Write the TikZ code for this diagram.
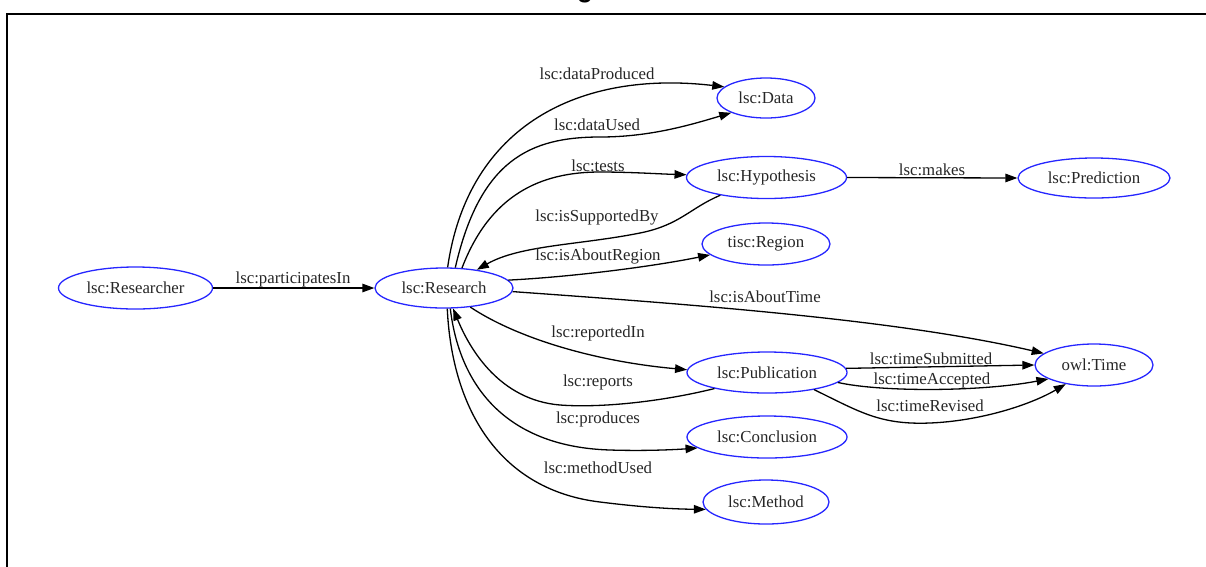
\documentclass[tikz,border=0pt]{standalone}
\usepackage{fontspec}
\setmainfont{Liberation Serif}
\newfontfamily\labelfont{Liberation Serif}
\newfontfamily\headfont{Liberation Sans}
\usetikzlibrary{shapes.geometric,arrows.meta}

\begin{document}
\begin{tikzpicture}[x=1pt,y=-1pt,
  cls/.style={ellipse, draw=blue!85!white, line width=1.3pt, inner sep=0pt,
    text=black!85, font=\labelfont\fontsize{16.8}{20}\selectfont},
  rel/.style={draw=black, line width=1.3pt, -{Triangle[length=12pt,width=8.5pt]}},
  lbl/.style={inner sep=0pt, text=black!85, font=\labelfont\fontsize{16.8}{20}\selectfont}]
\useasboundingbox (0,0) rectangle (1206,566);
\clip (0,0) rectangle (1206,566);

% frame and heading
\draw[line width=2pt] (6.5,570) |- (1210,14);
\node[font=\headfont\bfseries\fontsize{26}{30}\selectfont, anchor=base, inner sep=0pt] (head) at (585,-3) {g};

% classes
\node[cls, minimum width=154, minimum height=42] (researcher) at (135.5,288) {lsc:Researcher};
\node[cls, minimum width=138, minimum height=40] (research) at (444,288) {lsc:Research};
\node[cls, minimum width=98, minimum height=40] (data) at (766,98) {lsc:Data};
\node[cls, minimum width=160, minimum height=42] (hypothesis) at (766.5,177.5) {lsc:Hypothesis};
\node[cls, minimum width=152, minimum height=40] (prediction) at (1094,178) {lsc:Prediction};
\node[cls, minimum width=128, minimum height=42] (region) at (766,244) {tisc:Region};
\node[cls, minimum width=118, minimum height=42] (time) at (1094,365) {owl:Time};
\node[cls, minimum width=160, minimum height=41] (publication) at (767,372.5) {lsc:Publication};
\node[cls, minimum width=160, minimum height=42] (conclusion) at (767,437) {lsc:Conclusion};
\node[cls, minimum width=126, minimum height=44] (method) at (766,502) {lsc:Method};

% properties
\draw[rel] (researcher.east) -- (research.west);
\draw[rel] (research.80) .. controls (468,125) and (580,70) .. (data.165);
\draw[rel] (research.61) .. controls (480,160) and (530,137) .. (600,137)
  .. controls (650,137) and (690,125) .. (data.203);
\draw[rel] (research.48) .. controls (490,195) and (540,172) .. (600,172)
  .. controls (630,172) and (660,174) .. (hypothesis.178);
\draw[rel] (hypothesis.201) .. controls (690,208) and (680,225) .. (640,233)
  .. controls (580,245) and (520,245) .. (research.29);
\draw[rel] (research.7) .. controls (570,277) and (650,267) .. (region.191);
\draw[rel] (research.-3) .. controls (700,305) and (900,320) .. (time.167);
\draw[rel] (research.-36) .. controls (520,340) and (600,362) .. (publication.178);
\draw[rel] (publication.197) .. controls (660,402) and (600,408) .. (560,405)
  .. controls (500,400) and (470,350) .. (research.-66);
\draw[rel] (research.-73) .. controls (460,390) and (510,447) .. (610,450)
  .. controls (640,451) and (670,450) .. (conclusion.189);
\draw[rel] (research.-81) .. controls (452,410) and (500,490) .. (600,502)
  .. controls (640,507) and (670,509) .. (method.187);
\draw[rel] (hypothesis.east) -- (prediction.west);
\draw[rel] (publication.3) -- (time.180);
\draw[rel] (publication.-8) .. controls (880,392) and (980,392) .. (time.197);
\draw[rel] (publication.-20) .. controls (860,412) and (880,425) .. (930,423)
  .. controls (980,421) and (1030,405) .. (time.214);

% property names
\node[lbl] (l-part) at (293,279) {lsc:participatesIn};
\node[lbl] (l-dprod) at (597,74) {lsc:dataProduced};
\node[lbl] (l-dused) at (597,125) {lsc:dataUsed};
\node[lbl] (l-tests) at (598,166) {lsc:tests};
\node[lbl] (l-supp) at (597,217) {lsc:isSupportedBy};
\node[lbl] (l-region) at (598,256) {lsc:isAboutRegion};
\node[lbl] (l-time) at (765,297) {lsc:isAboutTime};
\node[lbl] (l-repin) at (598,333) {lsc:reportedIn};
\node[lbl] (l-reps) at (598,382) {lsc:reports};
\node[lbl] (l-prod) at (598,419) {lsc:produces};
\node[lbl] (l-meth) at (598,468) {lsc:methodUsed};
\node[lbl] (l-makes) at (932,170) {lsc:makes};
\node[lbl] (l-sub) at (931,359) {lsc:timeSubmitted};
\node[lbl] (l-acc) at (932,380) {lsc:timeAccepted};
\node[lbl] (l-rev) at (930,406) {lsc:timeRevised};
\end{tikzpicture}
\end{document}
